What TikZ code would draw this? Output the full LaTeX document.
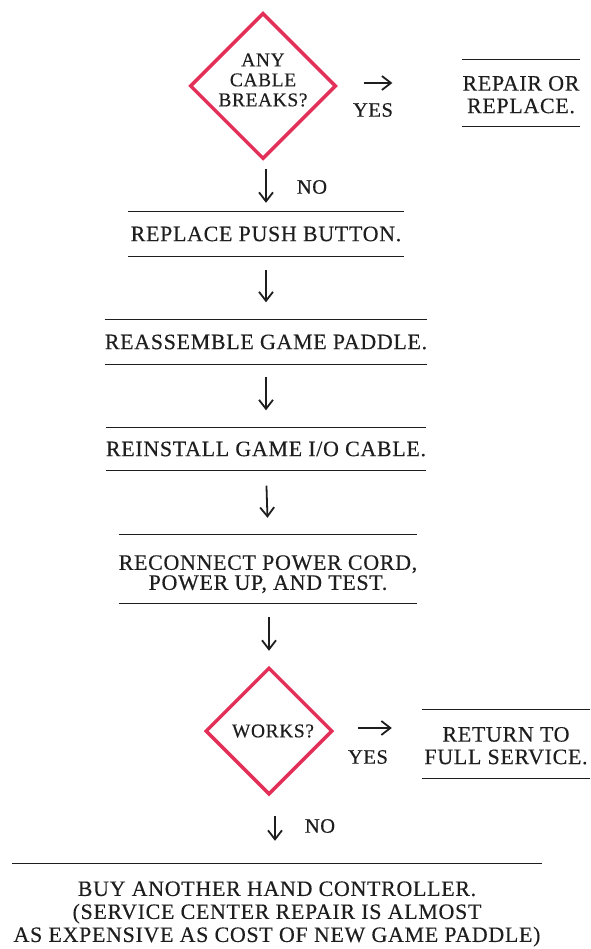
\documentclass[tikz,border=0pt]{standalone}
\usepackage{fontspec}
\setmainfont{Liberation Serif}[LetterSpace=3.0, FakeBold=0.3]
\usetikzlibrary{arrows.meta,shapes.geometric}
\definecolor{askred}{RGB}{226,48,88}
\definecolor{inkgray}{RGB}{30,30,30}

\begin{document}
\begin{tikzpicture}[x=1pt, y=-1pt,
    ask/.style={diamond, draw=askred, line width=3.5pt, inner sep=0pt,
      minimum width=#1, minimum height=#1},
    asktext/.style={font=\fontsize{19.5}{20}\selectfont, align=center, text=inkgray},
    stepbox/.style={inner sep=0pt, align=center,
      font=\fontsize{22}{22.5}\selectfont, text=inkgray},
    rule/.style={line width=1.3pt, inkgray},
    flow/.style={-{Straight Barb[length=9pt,width=14pt]}, line width=1.8pt, inkgray},
    lbl/.style={font=\fontsize{20.5}{22}\selectfont, text=inkgray}
  ]
  \useasboundingbox (0,0) rectangle (590,949);

  %% ===== first question =====
  \node[ask=146pt, label={[asktext, yshift=6pt]center:ANY\\CABLE\\BREAKS?}] (q1) at (263,86) {};
  \node[stepbox, minimum width=105pt, minimum height=66pt] (rep) at (521,93)
    {\rule{0pt}{18pt}REPAIR OR\\REPLACE.};
  \node[lbl] (yes1) at (373,110) {YES};
  \node[lbl] (no1) at (312,187) {NO};

  %% ===== steps =====
  \node[stepbox, minimum width=275pt, minimum height=44pt] (b1) at (266,234)
    {REPLACE PUSH BUTTON.};
  \node[stepbox, minimum width=320pt, minimum height=45pt] (b2) at (266,342)
    {REASSEMBLE GAME PADDLE.};
  \node[stepbox, minimum width=320pt, minimum height=43pt] (b3) at (266,449)
    {REINSTALL GAME I/O CABLE.};
  \node[stepbox, minimum width=297pt, minimum height=68pt,
        font=\fontsize{22}{20}\selectfont] (b4) at (268,569)
    {\rule{0pt}{25pt}RECONNECT POWER CORD,\\POWER UP, AND TEST.};

  %% ===== second question =====
  \node[ask=127pt, label={[asktext, xshift=4pt]center:WORKS?}] (q2) at (269,731) {};
  \node[stepbox, minimum width=168pt, minimum height=68pt] (ret) at (506,744)
    {\rule{0pt}{18pt}RETURN TO\\FULL SERVICE.};
  \node[lbl] (yes2) at (368,757) {YES};
  \node[lbl] (no2) at (320,826) {NO};

  \node[stepbox, minimum width=530pt, minimum height=100pt,
        font=\fontsize{22}{23}\selectfont] (buy) at (277,914)
    {BUY ANOTHER HAND CONTROLLER.\\(SERVICE CENTER REPAIR IS ALMOST\\
     AS EXPENSIVE AS COST OF NEW GAME PADDLE)};

  %% --- rules above and below the steps ---
  \foreach \n in {rep,b1,b2,b3,b4,ret}
    \draw[rule] (\n.north west) -- (\n.north east)
                (\n.south west) -- (\n.south east);
  \draw[rule] (buy.north west) -- (buy.north east);

  %% --- arrows ---
  \draw[flow, shorten <=26pt, shorten >=70pt] ([yshift=3pt]q1.east) -- ([yshift=3pt]q1.east -| rep.west);
  \draw[flow, shorten <=8pt, shorten >=9pt] (b1.north |- q1.south) -- (b1.north);
  \draw[flow, shorten <=14pt, shorten >=17pt] (b1.south) -- (b2.north);
  \draw[flow, shorten <=12pt, shorten >=17pt] (b2.south) -- (b3.north);
  \draw[flow, shorten <=15pt, shorten >=17pt] (b3.south) -- (b4.north);
  \draw[flow, shorten <=14pt, shorten >=15pt] (q2.north |- b4.south) -- (q2.north);
  \draw[flow, shorten <=24pt, shorten >=30pt] ([yshift=3pt]q2.east) -- ([yshift=3pt]q2.east -| ret.west);
  \draw[flow, shorten <=20pt, shorten >=23pt] ([xshift=6pt]q2.south) -- ([xshift=6pt]q2.south |- buy.north);
\end{tikzpicture}
\end{document}
